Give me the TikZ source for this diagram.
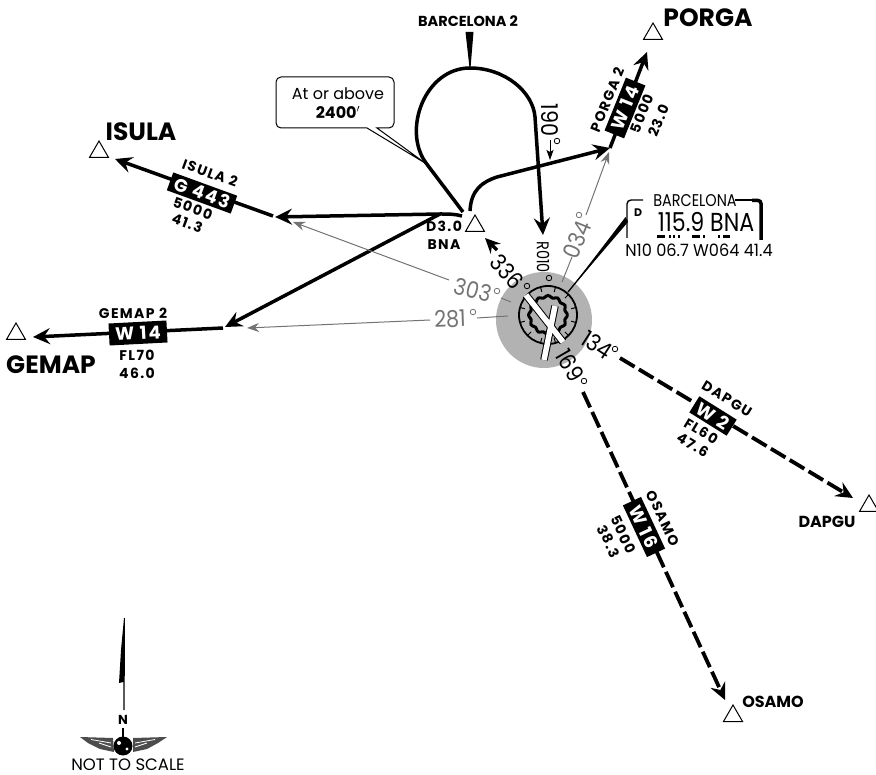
\documentclass[tikz,border=0pt]{standalone}
\usepackage{fontspec}
\setmainfont{Poppins}
\newfontfamily\lsf[LetterSpace=10]{Poppins}
\newfontfamily\nf[FakeStretch=0.85]{Poppins}
\newfontfamily\nfb[FakeStretch=0.9]{Poppins}
\newfontfamily\nfw[FakeStretch=0.95]{Poppins}
\usetikzlibrary{arrows.meta,shapes.geometric,calc}
\definecolor{rgray}{gray}{0.45}
\tikzset{
  x=1pt,y=-1pt,
  route/.style={line width=3.5pt,-{Stealth[length=17pt,width=16pt,inset=6pt]}},
  dashroute/.style={route,line width=3.8pt,dash pattern=on 17pt off 5pt},
  grayroute/.style={rgray,line width=1pt,-{Stealth[length=12pt,width=9pt,inset=4pt]}},
  grayline/.style={rgray,line width=1pt},
  fix/.style={regular polygon,regular polygon sides=3,draw,line width=1pt,fill=white,minimum size=22pt,inner sep=0pt},
  airway/.style={fill=black,text=white,font=\lsf\fontsize{18}{18}\selectfont\bfseries,inner sep=0pt,minimum height=20pt},
  lab/.style={font=\lsf\fontsize{14}{18}\selectfont\bfseries,align=center,inner sep=0pt},
  tlab/.style={font=\lsf\fontsize{14}{16}\selectfont\bfseries,align=center,inner sep=0pt},
  flab/.style={font=\fontsize{16}{16}\selectfont\bfseries,inner sep=0pt},
  biglab/.style={font=\fontsize{25}{25}\selectfont\bfseries,inner sep=0pt},
  brg/.style={font=\nfb\fontsize{23}{23}\selectfont,inner sep=0pt},
  deg/.style={circle,draw,line width=0.8pt,minimum size=5.5pt,inner sep=0pt},
}
\begin{document}
\begin{tikzpicture}
\useasboundingbox (0,0) rectangle (876,775);
% VOR
\coordinate (ctr) at (544,320);
\coordinate (ring) at (548,315);
\fill[black!30] (ctr) circle (48);
\draw[line width=1.8pt] (ring) circle (29);
\draw[line width=3pt,shift={(ring)},domain=0:360,samples=73] plot (\x:{18.5+1*cos(12*\x)});
\foreach \a in {15,45,...,345}{
  \draw[line width=1pt] ($(ring)+(\a:24)$) -- ($(ring)+(\a:29)$);
}
\draw[line width=7.5pt] (526,295) -- (563,342);
\draw[line width=7.5pt,black] (555,306) -- (544,360);
\draw[white,line width=5.5pt] (555,306) -- (544,360);
\draw[white,line width=5.5pt] (526,295) -- (563,342);

% fixes
\node[fix] (porga) at (653,34) {};
\node[fix] (isula) at (99,152) {};
\node[fix] (gemap) at (16,334) {};
\node[fix] (dnine) at (475,226) {};
\node[fix] (dapgu) at (869,506) {};
\node[fix] (osamo) at (733,716) {};

% fix names
\node[biglab] (nporga) at (708,18) {PORGA};
\node[biglab] (nisula) at (141,132) {ISULA};
\node[biglab] (ngemap) at (51,365) {GEMAP};
\node[flab] (ndapgu) at (827,522) {DAPGU};
\node[flab] (nosamo) at (773,702) {OSAMO};
\node[lab] (nd) at (444,235) {D3.0\\BNA};
\node[font=\fontsize{14.5}{14.5}\selectfont\bfseries,inner sep=0pt] (nbarc) at (468,21) {BARCELONA 2};

% loop and departure lines
\coordinate (a1) at (463,212);
\coordinate (a2) at (426,163);
\coordinate (a3) at (470,68);
\coordinate (a4) at (535,117);
\coordinate (a5) at (543,235);
\draw[route]
  (a1) -- (a2) .. controls (402,130) and (425,68) .. (a3)
  .. controls (505,68) and (533,92) .. (a4) -- (a5);
\coordinate (b1) at (470,211);
\coordinate (b2) at (610,148);
\draw[route] (b1) .. controls (471,190) and (482,182) .. (497,177) -- (b2);
\coordinate (c1) at (462,216);
\coordinate (c2) at (440,214);
\coordinate (c3) at (275,217);
\coordinate (c4) at (225,327);
\draw[route] (c1) .. controls (455,214) and (448,214) .. (c2) -- (c3);
\draw[route] (c2) -- (c4);

% needle from BARCELONA 2
\fill (465.5,32) -- (473.5,32) -- (470.5,68) -- (469.5,68) -- cycle;

% outbound airways
\coordinate (i1) at (273,216);
\coordinate (i2) at (115,159);
\draw[route] (i1) -- (i2);
\node[airway,rotate=-20,minimum width=68pt,minimum height=19pt] (wi) at (202,193) {G 443};
\node[lab,rotate=-20] at (210,173) {ISULA 2};
\node[tlab,rotate=-20] at (190,216) {5000\\41.3};

\coordinate (g1) at (223,328);
\coordinate (g2) at (33,337);
\draw[route] (g1) -- (g2);
\node[airway,rotate=3,minimum width=58pt,minimum height=22pt] (wg) at (138,333) {W 14};
\node[lab] at (133,313) {GEMAP 2};
\node[lab] at (137,364) {FL70\\46.0};

\coordinate (p1) at (610,148);
\coordinate (p2) at (647,52);
\draw[route] (p1) -- (p2);
\node[airway,rotate=68,minimum width=57pt,minimum height=21pt] (wp) at (625,108) {W 14};
\node[lab,rotate=68] at (607,100) {PORGA 2};
\node[lab,rotate=68] at (650,117) {5000\\23.0};

\coordinate (d1) at (620,358);
\coordinate (d2) at (853,498);
\draw[dashroute] (d1) -- (d2);
\node[airway,rotate=-32,minimum width=44pt,minimum height=19pt] (wd) at (713,416) {W 2};
\node[lab,rotate=-31] at (727,399) {DAPGU};
\node[tlab,rotate=-31] at (697,438) {FL60\\47.6};

\coordinate (o1) at (583,392);
\coordinate (o2) at (725,700);
\draw[dashroute] (o1) -- (o2);
\node[airway,rotate=-65,minimum width=57pt] (wo) at (644,527) {W 16};
\node[lab,rotate=-65] at (663,518) {OSAMO};
\node[tlab,rotate=-65] at (616,538) {5000\\38.3};

% bearings to radials
\coordinate (t1) at (497,250);
\coordinate (t2) at (485,238);
\draw[line width=3.5pt,-{Stealth[length=15pt,width=14pt,inset=5pt]}] (t1) -- (t2);
\node[brg,rotate=-48] (b336) at (507,272) {336};
\node[deg] (d336) at (527,286) {};
\node[font=\nf\fontsize{17}{17}\selectfont,inner sep=0pt,rotate=-90] (r010) at (543,257) {R010};
\node[deg] (dr) at (549,278) {};

\node[brg,rotate=-90] (b190) at (550,120) {190};
\node[deg] (d190) at (557,141) {};
\coordinate (u1) at (550,140);
\coordinate (u2) at (550,160);
\draw[line width=1pt,-{Stealth[length=10pt,width=7pt,inset=2pt]}] (u1) -- (u2);

\node[brg,rgray,rotate=68] (b034) at (577,240) {034};
\node[deg,rgray] (d034) at (579,215) {};
\coordinate (g34a) at (562,282);
\coordinate (g34b) at (572,257);
\draw[grayline] (g34a) -- (g34b);
\coordinate (g34c) at (586,215);
\coordinate (g34d) at (609,152);
\draw[grayroute] (g34c) -- (g34d);

\node[brg,rgray,rotate=-15] (b303) at (473,290) {303};
\node[deg,rgray] (d303) at (497,291) {};
\coordinate (g03a) at (511,302);
\coordinate (g03b) at (501,298);
\draw[grayline] (g03a) -- (g03b);
\coordinate (g03c) at (449,280);
\coordinate (g03d) at (293,222);
\draw[grayroute] (g03c) -- (g03d);

\node[brg,rgray,rotate=2] (b281) at (450,319) {281};
\node[deg,rgray] (d281) at (473,312) {};
\coordinate (g81a) at (508,316);
\coordinate (g81b) at (477,318);
\draw[grayline] (g81a) -- (g81b);
\coordinate (g81c) at (430,320);
\coordinate (g81d) at (247,328);
\draw[grayroute] (g81c) -- (g81d);

\node[brg,rotate=-33] (b134) at (597,345) {134};
\node[deg] (d134) at (615,349) {};
\node[brg,rotate=-60] (b169) at (570,365) {169};
\node[deg] (d169) at (584,381) {};

% callout
\coordinate (ctip) at (425,163);
\draw[fill=white,line width=1pt] (377,128) [rounded corners=5pt] -- (394,128) -- (394,77) -- (276,77) -- (276,128) [sharp corners] -- (367,128) -- (ctip) -- cycle;
\node[font=\fontsize{16}{19}\selectfont,align=center,inner sep=0pt] (call) at (338,103) {At or above\\{\bfseries 2400$'$}};

% navaid box
\coordinate (n1) at (568,292);
\coordinate (n2) at (627,220);
\fill (n1) -- (625.5,217) -- (628,222) -- cycle;
\draw[line width=1.3pt] (n1) -- (n2);
\draw[line width=1.4pt,rounded corners=4pt] (627,238) -- (627,200) -- (643,200);
\draw[line width=1.4pt] (735,200) -- (756,200);
\draw[line width=3.5pt,rounded corners=3pt] (752,200.5) -- (761,200.5) -- (761,240);
\node[font=\nf\fontsize{17}{17}\selectfont,inner sep=0pt] (nbarcelona) at (695,201) {BARCELONA};
\node[font=\fontsize{11}{11}\selectfont\bfseries,inner sep=0pt] (dlab) at (638,213) {D};
\node[font=\nf\fontsize{26}{26}\selectfont,inner sep=0pt] (nfreq) at (706,222) {115.9 BNA};
\node[font=\nfw\fontsize{17}{17}\selectfont,inner sep=0pt] (ncoord) at (699,250) {N10 06.7 W064 41.4};
\foreach \xa/\xb in {657/665,668.5/670.5,673/675,677.5/679.5,692/700,703/705,718/720,723/730}
  \fill (\xa,235.5) rectangle (\xb,238);

% north arrow
\fill (124,618) -- (125,618) -- (124.6,710) -- (123.4,710) -- (123.4,682) -- (119,683) -- (121,650) -- cycle;
\node[font=\fontsize{13}{13}\selectfont\bfseries,inner sep=0pt] (north) at (123,720) {N};
\draw[line width=1.3pt] (123,728) -- (123,737);
\fill[black!70] (80,737) -- (113,738) -- (114,752) -- (100,749) -- (88,743) -- cycle;
\fill[black!70] (167,737) -- (133,738) -- (133,752) -- (147,749) -- (158,743) -- cycle;
\foreach \s in {-1,1}{
  \draw[white,line width=0.8pt] (123+\s*12,743) -- (123+\s*32,739.5);
  \draw[white,line width=0.8pt] (123+\s*12,747) -- (123+\s*24,743);
}
\fill (123,746) circle (9.5);
\fill[white] (119,743) circle (2);
\fill[white] (127,749) circle (1.6);
\node[font=\fontsize{16.5}{16.5}\selectfont,inner sep=0pt] (nts) at (128,765) {NOT TO SCALE};
\end{tikzpicture}
\end{document}
